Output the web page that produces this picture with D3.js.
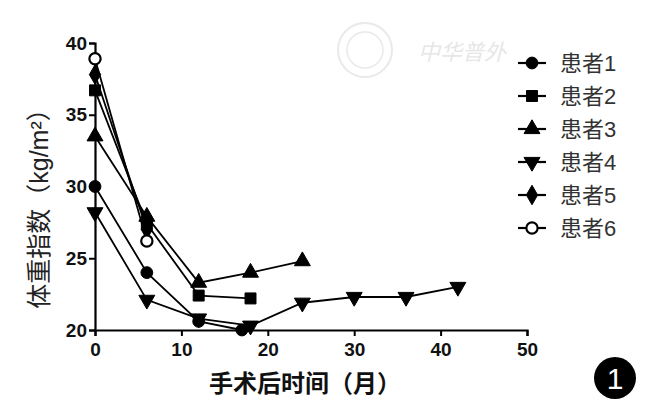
<!DOCTYPE html>
<html>
<head>
<meta charset="utf-8">
<script src="https://cdn.jsdelivr.net/npm/d3@7"></script>
<style>
  body { margin: 0; background: #fff; }
  text { font-family: "Liberation Sans", Arial, "Noto Sans CJK SC", sans-serif; }
</style>
</head>
<body>
<svg width="655" height="407"></svg>
<script>
// patient series, BMI over months after surgery
var names = ["患者1", "患者2", "患者3", "患者4", "患者5", "患者6"];
var p1 = [[0, 30.0], [6, 24.0], [12, 20.6], [17, 20.0]];
var p2 = [[0, 36.7], [6, 27.4], [12, 22.4], [18, 22.2]];
var p3 = [[0, 33.5], [6, 27.9], [12, 23.3], [18, 24.0], [24, 24.8]];
var p4 = [[0, 28.2], [6, 22.1], [12, 20.8], [18, 20.3], [24, 21.9], [30, 22.3], [36, 22.3], [42, 23.0]];
var p5 = [[0, 37.8], [6, 27.0]];
var p6 = [[0, 38.9], [6, 26.2]];
var series = [p1, p2, p3, p4, p5, p6];
var xTicks = [0, 10, 20, 30, 40, 50];
var yTicks = [20, 25, 30, 35, 40];

var svg = d3.select("svg");
var margin = {left: 95, top: 43, right: 128, bottom: 77},
	width = 655 - margin.left - margin.right,
	height = 407 - margin.top - margin.bottom;

var x = d3.scaleLinear().domain([0, 50]).range([0, width]);
var y = d3.scaleLinear().domain([20, 40]).range([height, 0]);

// faint watermark
var wm = svg.append("g").attr("opacity", 0.18);
wm.append("circle").attr("cx", 365).attr("cy", 50).attr("r", 27)
	.attr("fill", "none").attr("stroke", "#888").attr("stroke-width", 2);
wm.append("circle").attr("cx", 365).attr("cy", 50).attr("r", 18)
	.attr("fill", "none").attr("stroke", "#888").attr("stroke-width", 1.5);
wm.append("text").attr("x", 418).attr("y", 60)
	.attr("font-size", 22).attr("font-style", "italic").attr("fill", "#777")
	.text("中华普外");

var g = svg.append("g")
	.attr("transform", "translate(" + margin.left + "," + margin.top + ")");

// axes
var xAxis = g.append("g")
	.attr("transform", "translate(0," + height + ")")
	.call(d3.axisBottom(x).tickValues(xTicks).tickSize(6).tickPadding(7));
var yAxis = g.append("g")
	.call(d3.axisLeft(y).tickValues(yTicks).tickSize(6).tickPadding(2));

[xAxis, yAxis].forEach(function(a) {
	a.select(".domain").attr("stroke", "#000").attr("stroke-width", 2.2);
	a.selectAll(".tick line").attr("stroke", "#000").attr("stroke-width", 2);
	a.selectAll(".tick text").attr("fill", "#111")
		.attr("font-size", 19).attr("font-weight", "bold")
		.style("font-family", "Liberation Sans, Arial, sans-serif");
});

// axis labels
svg.append("text")
	.attr("transform", "translate(48," + (margin.top + height / 2 + 16) + ") rotate(-90)")
	.attr("text-anchor", "middle")
	.attr("font-size", 25).attr("fill", "#222")
	.text("体重指数（kg/m²）");

svg.append("text")
	.attr("x", 305).attr("y", 392)
	.attr("text-anchor", "middle")
	.attr("font-size", 24).attr("font-weight", "bold").attr("fill", "#111")
	.text("手术后时间（月）");

// marker shapes
var shapes = [
	d3.symbol().type(d3.symbolCircle).size(110),
	d3.symbol().type(d3.symbolSquare).size(120),
	d3.symbol().type(d3.symbolTriangle).size(110),
	d3.symbol().type(d3.symbolTriangle).size(110),
	d3.symbol().type(d3.symbolDiamond).size(110),
	d3.symbol().type(d3.symbolCircle).size(100)
];
var rot = [0, 0, 0, 180, 0, 0];
var fills = ["#000", "#000", "#000", "#000", "#000", "#fff"];

var line = d3.line()
	.x(function(d) { return x(d[0]); })
	.y(function(d) { return y(d[1]); });

series.forEach(function(s, i) {
	g.append("path")
		.datum(s)
		.attr("fill", "none")
		.attr("stroke", "#000")
		.attr("stroke-width", 1.8)
		.attr("d", line);
});

series.forEach(function(s, i) {
	g.selectAll(".m" + i)
		.data(s)
		.enter()
		.append("path")
		.attr("d", shapes[i])
		.attr("transform", function(d) {
			return "translate(" + x(d[0]) + "," + y(d[1]) + ") rotate(" + rot[i] + ")";
		})
		.attr("fill", fills[i])
		.attr("stroke", "#000")
		.attr("stroke-width", i == 5 ? 2.2 : 1);
});

// legend
var leg = svg.append("g").attr("transform", "translate(518,63)");
names.forEach(function(n, i) {
	var row = leg.append("g").attr("transform", "translate(0," + (i * 33) + ")");
	row.append("line").attr("x1", 0).attr("x2", 28).attr("y1", 0).attr("y2", 0)
		.attr("stroke", "#000").attr("stroke-width", 2.2);
	row.append("path").attr("d", shapes[i])
		.attr("transform", "translate(14,0) rotate(" + rot[i] + ")")
		.attr("fill", fills[i]).attr("stroke", "#000")
		.attr("stroke-width", i == 5 ? 2.2 : 1);
	row.append("text").attr("x", 42).attr("y", 8)
		.attr("font-size", 22).attr("fill", "#333")
		.text(n);
});

// panel badge
svg.append("circle").attr("cx", 615).attr("cy", 378).attr("r", 21).attr("fill", "#000");
svg.append("text").attr("x", 615).attr("y", 389)
	.attr("text-anchor", "middle").attr("font-size", 30).attr("fill", "#fff")
	.text("1");
</script>
</body>
</html>
